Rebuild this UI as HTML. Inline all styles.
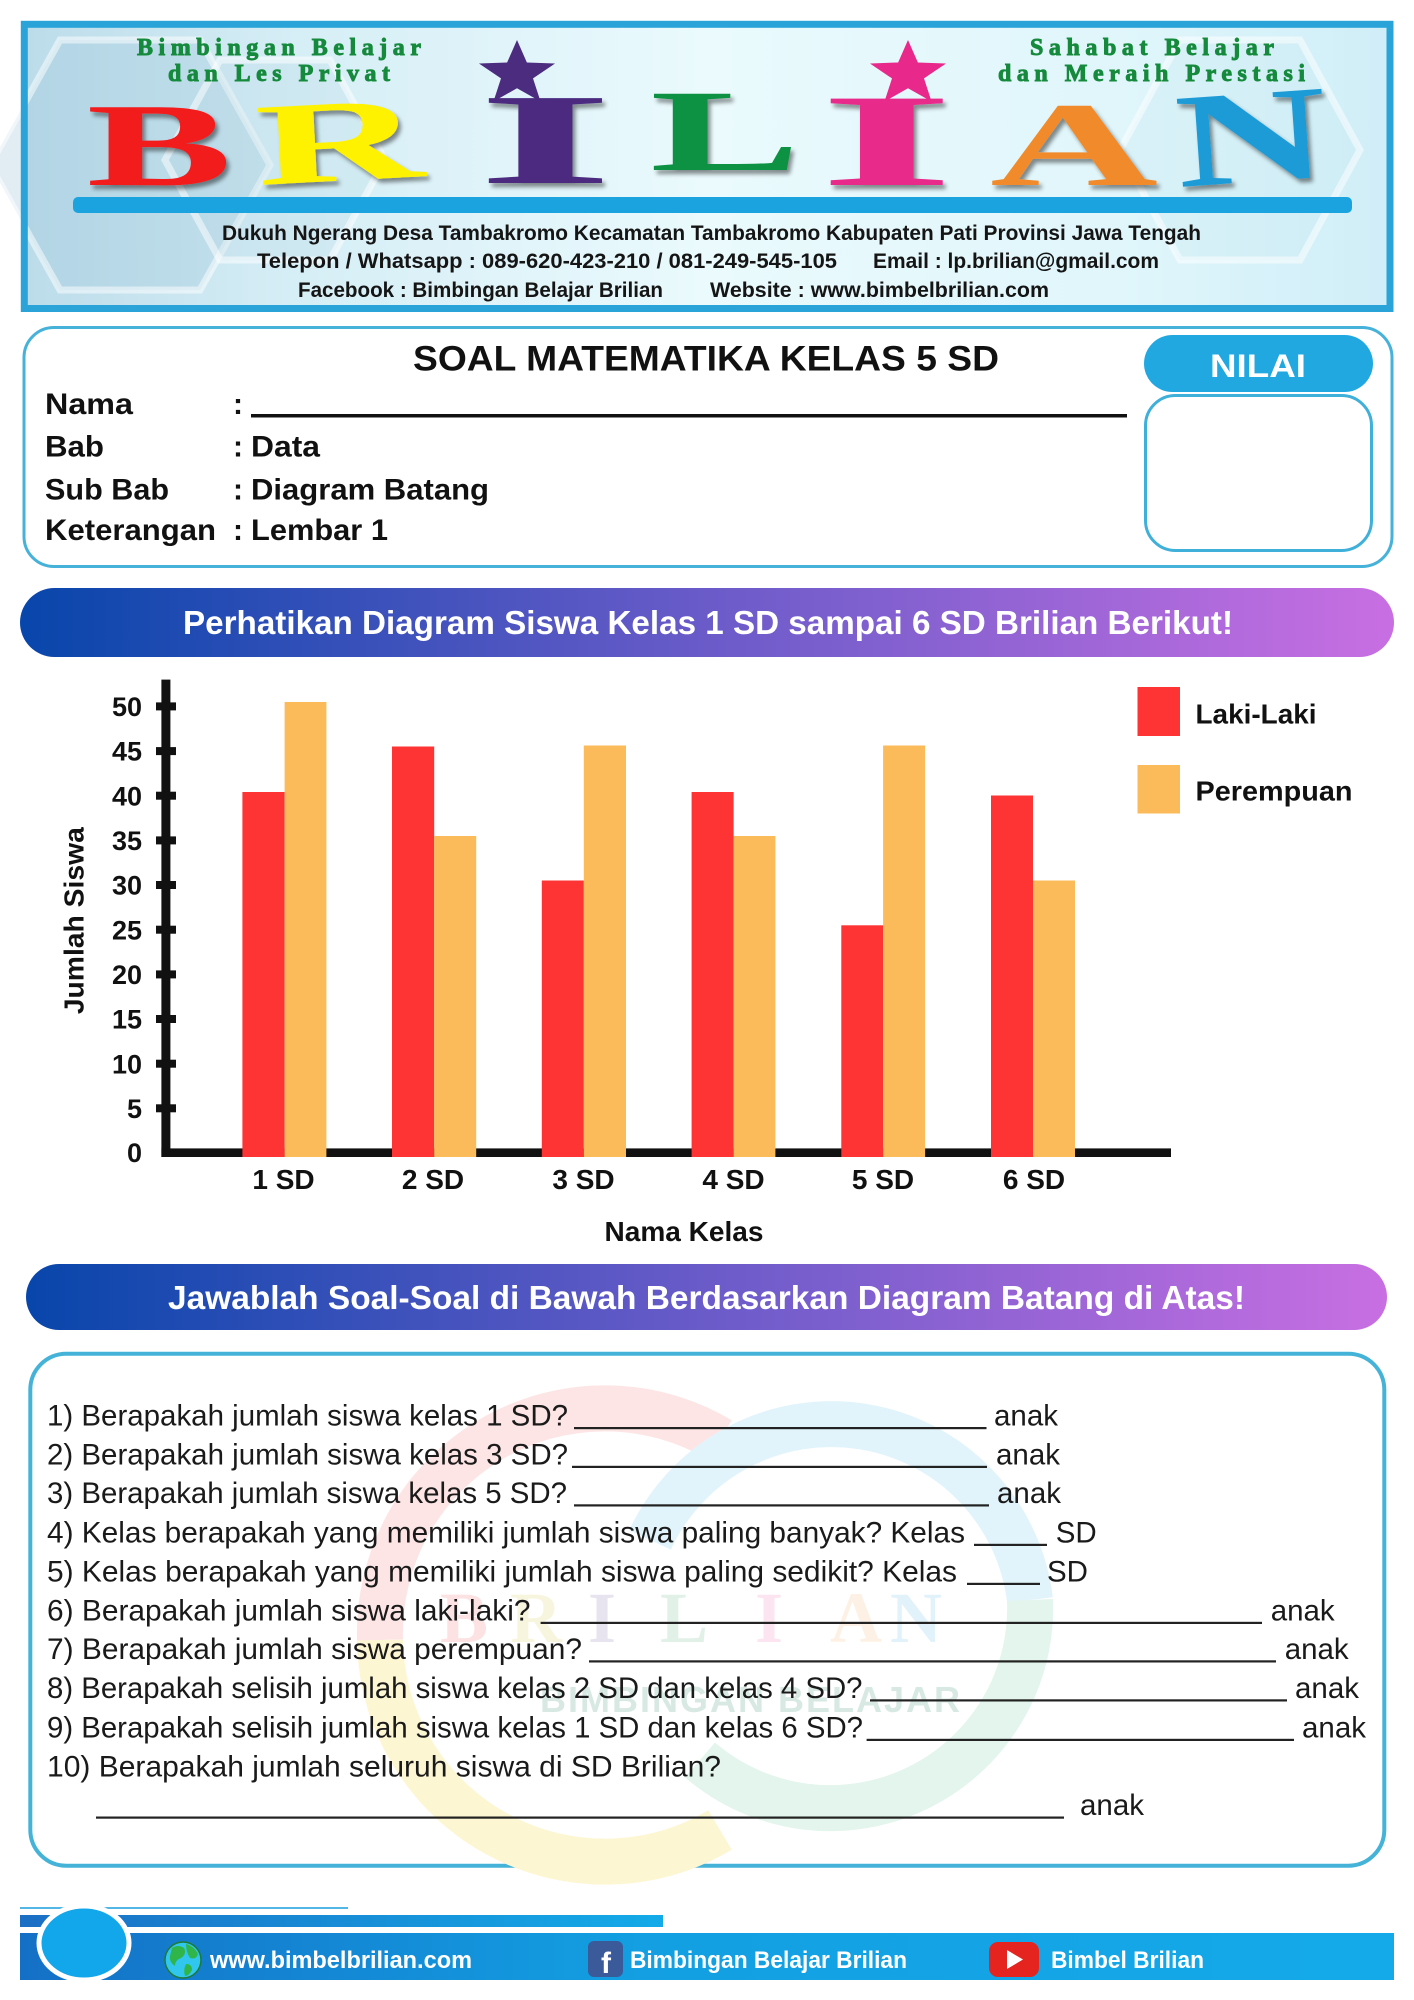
<!DOCTYPE html>
<html>
<head>
<meta charset="utf-8">
<style>
  html,body{margin:0;padding:0;background:#fff;}
  svg{display:block;}
</style>
</head>
<body>
<svg width="1414" height="2000" viewBox="0 0 1414 2000" xmlns="http://www.w3.org/2000/svg" font-family="'Liberation Sans', sans-serif">
  <defs>
    <linearGradient id="hdrBg" x1="0" y1="0" x2="1" y2="0">
      <stop offset="0" stop-color="#bcdcea"/>
      <stop offset="0.2" stop-color="#d6eef6"/>
      <stop offset="0.5" stop-color="#eafafd"/>
      <stop offset="0.8" stop-color="#e0f6fb"/>
      <stop offset="1" stop-color="#d0eef8"/>
    </linearGradient>
    <linearGradient id="bn" x1="0" y1="0" x2="1" y2="0">
      <stop offset="0" stop-color="#0846ab"/>
      <stop offset="0.5" stop-color="#6a5bc9"/>
      <stop offset="1" stop-color="#c86fe2"/>
    </linearGradient>
    <linearGradient id="fb1" x1="0" y1="0" x2="1" y2="0">
      <stop offset="0" stop-color="#1b6fc4"/>
      <stop offset="1" stop-color="#14aae8"/>
    </linearGradient>
    <linearGradient id="fb2" x1="0" y1="0" x2="1" y2="0">
      <stop offset="0" stop-color="#1470c6"/>
      <stop offset="0.45" stop-color="#139fe2"/>
      <stop offset="1" stop-color="#14aae9"/>
    </linearGradient>
    <filter id="sh" x="-20%" y="-20%" width="140%" height="140%">
      <feDropShadow dx="3" dy="4" stdDeviation="2" flood-color="#000" flood-opacity="0.45"/>
    </filter>
  </defs>

  <!-- ================= HEADER ================= -->
  <rect x="24" y="24" width="1366" height="284" fill="url(#hdrBg)"/>
  <g fill="none" stroke="#ffffff" stroke-opacity="0.5" stroke-width="7">
    <polygon points="60,40 200,40 270,165 200,290 60,290 -10,165" fill="#9cc4d6" fill-opacity="0.3"/>
    <polygon points="220,60 330,60 385,160 330,260 220,260 165,160" fill="#b6d6e3" fill-opacity="0.25"/>
    <polygon points="1180,40 1300,40 1360,150 1300,260 1180,260 1120,150" fill="#c6e6f0" fill-opacity="0.25"/>
  </g>
  <rect x="24.3" y="24.3" width="1365.7" height="284.2" fill="none" stroke="#2aa4d8" stroke-width="7"/>

  <g font-family="'Liberation Serif', serif" font-weight="bold" fill="#168a3c" stroke="#168a3c" stroke-width="0.9" font-size="24">
    <text x="137" y="55" textLength="284" lengthAdjust="spacing">Bimbingan Belajar</text>
    <text x="168" y="81" textLength="222" lengthAdjust="spacing">dan Les Privat</text>
    <text x="1030" y="55" textLength="244" lengthAdjust="spacing">Sahabat Belajar</text>
    <text x="998" y="81" textLength="307" lengthAdjust="spacing">dan Meraih Prestasi</text>
  </g>

  <!-- BRILIAN letters -->
  <g font-family="'Liberation Serif', serif" font-weight="bold" font-size="120" filter="url(#sh)">
    <text transform="translate(86.5,185) scale(1.82,0.99)" fill="#f21a1f">B</text>
    <text transform="translate(258,185) rotate(-3) scale(1.93,0.98)" fill="#fff200">R</text>
    <text transform="translate(477,183) scale(2.93,1.08)" fill="#4b2c7f">I</text>
    <text transform="translate(650,170) scale(1.88,0.97)" fill="#0f9143">L</text>
    <text transform="translate(819,185) scale(2.9,1.1)" fill="#e8298b">I</text>
    <text transform="translate(990,185) scale(1.94,1.0)" fill="#f08a2c">A</text>
    <text transform="translate(1179,187) rotate(-4) scale(1.75,1.12)" fill="#1c9bd7">N</text>
  </g>
  <polygon transform="translate(517,74) scale(40,34)" fill="#4b2c7f" points="0,-1 0.247,-0.34 0.951,-0.309 0.4,0.13 0.588,0.809 0,0.42 -0.588,0.809 -0.4,0.13 -0.951,-0.309 -0.247,-0.34"/>
  <polygon transform="translate(908,74) scale(40,34)" fill="#e8298b" points="0,-1 0.247,-0.34 0.951,-0.309 0.4,0.13 0.588,0.809 0,0.42 -0.588,0.809 -0.4,0.13 -0.951,-0.309 -0.247,-0.34"/>

  <rect x="73" y="197" width="1279" height="16" rx="5" fill="#1aa3de"/>

  <g font-weight="bold" font-size="21" fill="#151515">
    <text x="222" y="240" textLength="979" lengthAdjust="spacingAndGlyphs">Dukuh Ngerang Desa Tambakromo Kecamatan Tambakromo Kabupaten Pati Provinsi Jawa Tengah</text>
    <text x="257" y="268" textLength="580" lengthAdjust="spacingAndGlyphs">Telepon / Whatsapp : 089-620-423-210 / 081-249-545-105</text>
    <text x="873" y="268" textLength="286" lengthAdjust="spacingAndGlyphs">Email : lp.brilian@gmail.com</text>
    <text x="298" y="297" textLength="365" lengthAdjust="spacingAndGlyphs">Facebook : Bimbingan Belajar Brilian</text>
    <text x="710" y="297" textLength="339" lengthAdjust="spacingAndGlyphs">Website : www.bimbelbrilian.com</text>
  </g>

  <!-- ================= INFO BOX ================= -->
  <rect x="24" y="327.5" width="1368" height="239" rx="30" fill="#fff" stroke="#46b2da" stroke-width="3"/>
  <text x="413" y="370.7" font-size="35" font-weight="bold" fill="#111" textLength="586" lengthAdjust="spacingAndGlyphs">SOAL MATEMATIKA KELAS 5 SD</text>
  <g font-size="30" font-weight="bold" fill="#111">
    <text x="45" y="414" textLength="88" lengthAdjust="spacingAndGlyphs">Nama</text>
    <text x="45" y="456.7" textLength="59" lengthAdjust="spacingAndGlyphs">Bab</text>
    <text x="45" y="499.3" textLength="124" lengthAdjust="spacingAndGlyphs">Sub Bab</text>
    <text x="45" y="540" textLength="171" lengthAdjust="spacingAndGlyphs">Keterangan</text>
    <text x="233" y="414">:</text>
    <text x="233" y="456.7">:</text>
    <text x="233" y="499.3">:</text>
    <text x="233" y="540">:</text>
    <text x="251" y="456.7" textLength="69" lengthAdjust="spacingAndGlyphs">Data</text>
    <text x="251" y="499.3" textLength="238" lengthAdjust="spacingAndGlyphs">Diagram Batang</text>
    <text x="251" y="540" textLength="137" lengthAdjust="spacingAndGlyphs">Lembar 1</text>
  </g>
  <rect x="251" y="414" width="876" height="3.5" fill="#111"/>

  <rect x="1144" y="335" width="229" height="57" rx="28.5" fill="#22a8e0"/>
  <text x="1210" y="377" font-size="32" font-weight="bold" fill="#fff" textLength="96" lengthAdjust="spacingAndGlyphs">NILAI</text>
  <rect x="1145.5" y="395.5" width="226" height="155" rx="30" fill="#fff" stroke="#3fb0da" stroke-width="3"/>

  <!-- ================= BANNER 1 ================= -->
  <rect x="20" y="588" width="1374" height="69" rx="34.5" fill="url(#bn)"/>
  <text x="183" y="634" font-size="33" font-weight="bold" fill="#fff" textLength="1050" lengthAdjust="spacingAndGlyphs">Perhatikan Diagram Siswa Kelas 1 SD sampai 6 SD Brilian Berikut!</text>

  <!-- ================= CHART ================= -->
  <g fill="#111">
    <rect x="161.4" y="679.6" width="9" height="477.4"/>
    <rect x="161.4" y="1148.4" width="1009.6" height="8.6"/>
    <rect x="156" y="702.4" width="20" height="8"/>
    <rect x="156" y="747.1" width="20" height="8"/>
    <rect x="156" y="791.7" width="20" height="8"/>
    <rect x="156" y="836.4" width="20" height="8"/>
    <rect x="156" y="881.0" width="20" height="8"/>
    <rect x="156" y="925.7" width="20" height="8"/>
    <rect x="156" y="970.4" width="20" height="8"/>
    <rect x="156" y="1015.0" width="20" height="8"/>
    <rect x="156" y="1059.7" width="20" height="8"/>
    <rect x="156" y="1104.3" width="20" height="8"/>
  </g>
  <g font-size="27" font-weight="bold" fill="#111" text-anchor="end">
    <text x="142" y="716">50</text>
    <text x="142" y="760.7">45</text>
    <text x="142" y="805.3">40</text>
    <text x="142" y="850">35</text>
    <text x="142" y="894.6">30</text>
    <text x="142" y="939.3">25</text>
    <text x="142" y="984">20</text>
    <text x="142" y="1028.6">15</text>
    <text x="142" y="1073.3">10</text>
    <text x="142" y="1117.9">5</text>
    <text x="142" y="1162">0</text>
  </g>
  <!-- bars -->
  <g>
    <rect x="242.4" y="792" width="42.2" height="365" fill="#fe3334"/>
    <rect x="284.6" y="702" width="41.8" height="455" fill="#fcbb5b"/>
    <rect x="392" y="746.5" width="42.2" height="410.5" fill="#fe3334"/>
    <rect x="434.2" y="836" width="42" height="321" fill="#fcbb5b"/>
    <rect x="541.8" y="880.5" width="42" height="276.5" fill="#fe3334"/>
    <rect x="583.8" y="745.5" width="42.2" height="411.5" fill="#fcbb5b"/>
    <rect x="691.6" y="792" width="42" height="365" fill="#fe3334"/>
    <rect x="733.6" y="836" width="41.8" height="321" fill="#fcbb5b"/>
    <rect x="841.3" y="925.3" width="41.8" height="231.7" fill="#fe3334"/>
    <rect x="883.1" y="745.5" width="42" height="411.5" fill="#fcbb5b"/>
    <rect x="991" y="795.5" width="42" height="361.5" fill="#fe3334"/>
    <rect x="1033" y="880.5" width="42" height="276.5" fill="#fcbb5b"/>
  </g>
  <g font-size="28" font-weight="bold" fill="#111" text-anchor="middle">
    <text x="283.5" y="1189">1 SD</text>
    <text x="433" y="1189">2 SD</text>
    <text x="583.5" y="1189">3 SD</text>
    <text x="733.5" y="1189">4 SD</text>
    <text x="883" y="1189">5 SD</text>
    <text x="1034" y="1189">6 SD</text>
    <text x="684" y="1241" textLength="159" lengthAdjust="spacingAndGlyphs">Nama Kelas</text>
    <text transform="translate(83.5,920.7) rotate(-90)" textLength="187" lengthAdjust="spacingAndGlyphs">Jumlah Siswa</text>
  </g>
  <rect x="1137.5" y="687" width="42.5" height="49" fill="#fe3334"/>
  <rect x="1137.5" y="765" width="42.5" height="48.5" fill="#fcbb5b"/>
  <g font-size="28" font-weight="bold" fill="#111">
    <text x="1195.5" y="723.6" textLength="121" lengthAdjust="spacingAndGlyphs">Laki-Laki</text>
    <text x="1195.5" y="800.5" textLength="157" lengthAdjust="spacingAndGlyphs">Perempuan</text>
  </g>

  <!-- ================= BANNER 2 ================= -->
  <rect x="26" y="1264" width="1361" height="66" rx="33" fill="url(#bn)"/>
  <text x="168" y="1309" font-size="33" font-weight="bold" fill="#fff" textLength="1077" lengthAdjust="spacingAndGlyphs">Jawablah Soal-Soal di Bawah Berdasarkan Diagram Batang di Atas!</text>

  <!-- ================= QUESTION BOX ================= -->
  <rect x="30.3" y="1353.7" width="1354" height="512" rx="36" fill="#fff" stroke="#45b3d8" stroke-width="4"/>

  <!-- watermark -->
  <g fill="none" stroke-width="46">
    <path d="M 380 1640 A 225 225 0 0 1 720 1440" stroke="#fde5e5"/>
    <path d="M 380 1640 A 225 225 0 0 0 720 1830" stroke="#fdf6d2"/>
    <path d="M 650 1540 A 200 200 0 0 1 1030 1600" stroke="#e2f4fb"/>
    <path d="M 1030 1600 A 200 200 0 0 1 700 1760" stroke="#e3f5ec"/>
  </g>
  <g font-family="'Liberation Serif', serif" font-weight="bold" font-size="72" opacity="0.12">
    <text x="440" y="1642" fill="#f21a1f">B</text>
    <text x="510" y="1642" fill="#c8b400">R</text>
    <text x="588" y="1642" fill="#4b2c7f">I</text>
    <text x="660" y="1642" fill="#0f9143">L</text>
    <text x="755" y="1642" fill="#e8298b">I</text>
    <text x="830" y="1642" fill="#f08a2c">A</text>
    <text x="890" y="1642" fill="#1c9bd7">N</text>
  </g>
  <text x="750" y="1712" text-anchor="middle" font-size="36" font-weight="bold" fill="#d8e9e3" textLength="420" lengthAdjust="spacing">BIMBINGAN BELAJAR</text>

  <g font-size="29.5" fill="#1a1a1a">
    <text x="47" y="1425.7" textLength="521" lengthAdjust="spacingAndGlyphs">1) Berapakah jumlah siswa kelas 1 SD?</text>
    <text x="994" y="1425.7">anak</text>
    <text x="47" y="1464.5" textLength="521" lengthAdjust="spacingAndGlyphs">2) Berapakah jumlah siswa kelas 3 SD?</text>
    <text x="996" y="1464.5">anak</text>
    <text x="47" y="1503" textLength="520" lengthAdjust="spacingAndGlyphs">3) Berapakah jumlah siswa kelas 5 SD?</text>
    <text x="997" y="1503">anak</text>
    <text x="47" y="1542.5" textLength="918" lengthAdjust="spacingAndGlyphs">4) Kelas berapakah yang memiliki jumlah siswa paling banyak? Kelas</text>
    <text x="1055.7" y="1542.5">SD</text>
    <text x="47" y="1581.5" textLength="910" lengthAdjust="spacingAndGlyphs">5) Kelas berapakah yang memiliki jumlah siswa paling sedikit? Kelas</text>
    <text x="1047" y="1581.5">SD</text>
    <text x="47" y="1620.5" textLength="483.5" lengthAdjust="spacingAndGlyphs">6) Berapakah jumlah siswa laki-laki?</text>
    <text x="1270.7" y="1620.5">anak</text>
    <text x="47" y="1659" textLength="535" lengthAdjust="spacingAndGlyphs">7) Berapakah jumlah siswa perempuan?</text>
    <text x="1284.7" y="1659">anak</text>
    <text x="47" y="1698" textLength="815.5" lengthAdjust="spacingAndGlyphs">8) Berapakah selisih jumlah siswa kelas 2 SD dan kelas 4 SD?</text>
    <text x="1295" y="1698">anak</text>
    <text x="47" y="1737.5" textLength="816" lengthAdjust="spacingAndGlyphs">9) Berapakah selisih jumlah siswa kelas 1 SD dan kelas 6 SD?</text>
    <text x="1302" y="1737.5">anak</text>
    <text x="47" y="1776.5" textLength="674" lengthAdjust="spacingAndGlyphs">10) Berapakah jumlah seluruh siswa di SD Brilian?</text>
    <text x="1080" y="1815">anak</text>
  </g>
  <g fill="#222">
    <rect x="574" y="1427" width="412.5" height="2.2"/>
    <rect x="572" y="1465.8" width="415" height="2.2"/>
    <rect x="574" y="1504.3" width="415" height="2.2"/>
    <rect x="974" y="1543.8" width="73" height="2.2"/>
    <rect x="967" y="1582.8" width="73" height="2.2"/>
    <rect x="540.6" y="1621.8" width="721.4" height="2.2"/>
    <rect x="589" y="1660.3" width="687" height="2.2"/>
    <rect x="870" y="1699.3" width="417" height="2.2"/>
    <rect x="866.6" y="1738.8" width="427.4" height="2.2"/>
    <rect x="96" y="1816.5" width="968" height="2.2"/>
  </g>

  <!-- ================= FOOTER ================= -->
  <line x1="20" y1="1908" x2="348" y2="1908" stroke="#1a9fde" stroke-width="1.5"/>
  <rect x="20" y="1915" width="643" height="12" fill="url(#fb1)"/>
  <rect x="20" y="1933" width="1374" height="47" fill="url(#fb2)"/>
  <ellipse cx="84" cy="1943" rx="45" ry="37" fill="#12a6ea" stroke="#fff" stroke-width="5"/>

  <circle cx="183" cy="1960" r="18" fill="#31c6ee" stroke="#1f7a34" stroke-width="1.5"/>
  <path d="M172 1948 q6 -4 12 0 q3 6 -3 10 q-6 2 -6 8 q-6 -4 -5 -10 z" fill="#2fb54a"/>
  <path d="M186 1944 q8 2 12 10 q-2 6 -8 4 q-4 -6 -4 -14 z" fill="#2fb54a"/>
  <path d="M186 1964 q6 0 6 6 q-3 6 -7 6 q-2 -6 1 -12 z" fill="#2fb54a"/>
  <text x="210" y="1968" font-size="24" font-weight="bold" fill="#fff" textLength="262" lengthAdjust="spacingAndGlyphs">www.bimbelbrilian.com</text>

  <rect x="588" y="1941" width="35" height="36" rx="6" fill="#3b5a9a"/>
  <text x="606" y="1973" text-anchor="middle" font-size="30" font-weight="bold" fill="#fff">f</text>
  <text x="630" y="1968" font-size="24" font-weight="bold" fill="#fff" textLength="277" lengthAdjust="spacingAndGlyphs">Bimbingan Belajar Brilian</text>

  <rect x="989" y="1942" width="50" height="35" rx="9" fill="#e52420"/>
  <polygon points="1007,1950 1007,1969 1023,1959.5" fill="#fff"/>
  <text x="1051" y="1968" font-size="24" font-weight="bold" fill="#fff" textLength="153" lengthAdjust="spacingAndGlyphs">Bimbel Brilian</text>
</svg>
</body>
</html>
